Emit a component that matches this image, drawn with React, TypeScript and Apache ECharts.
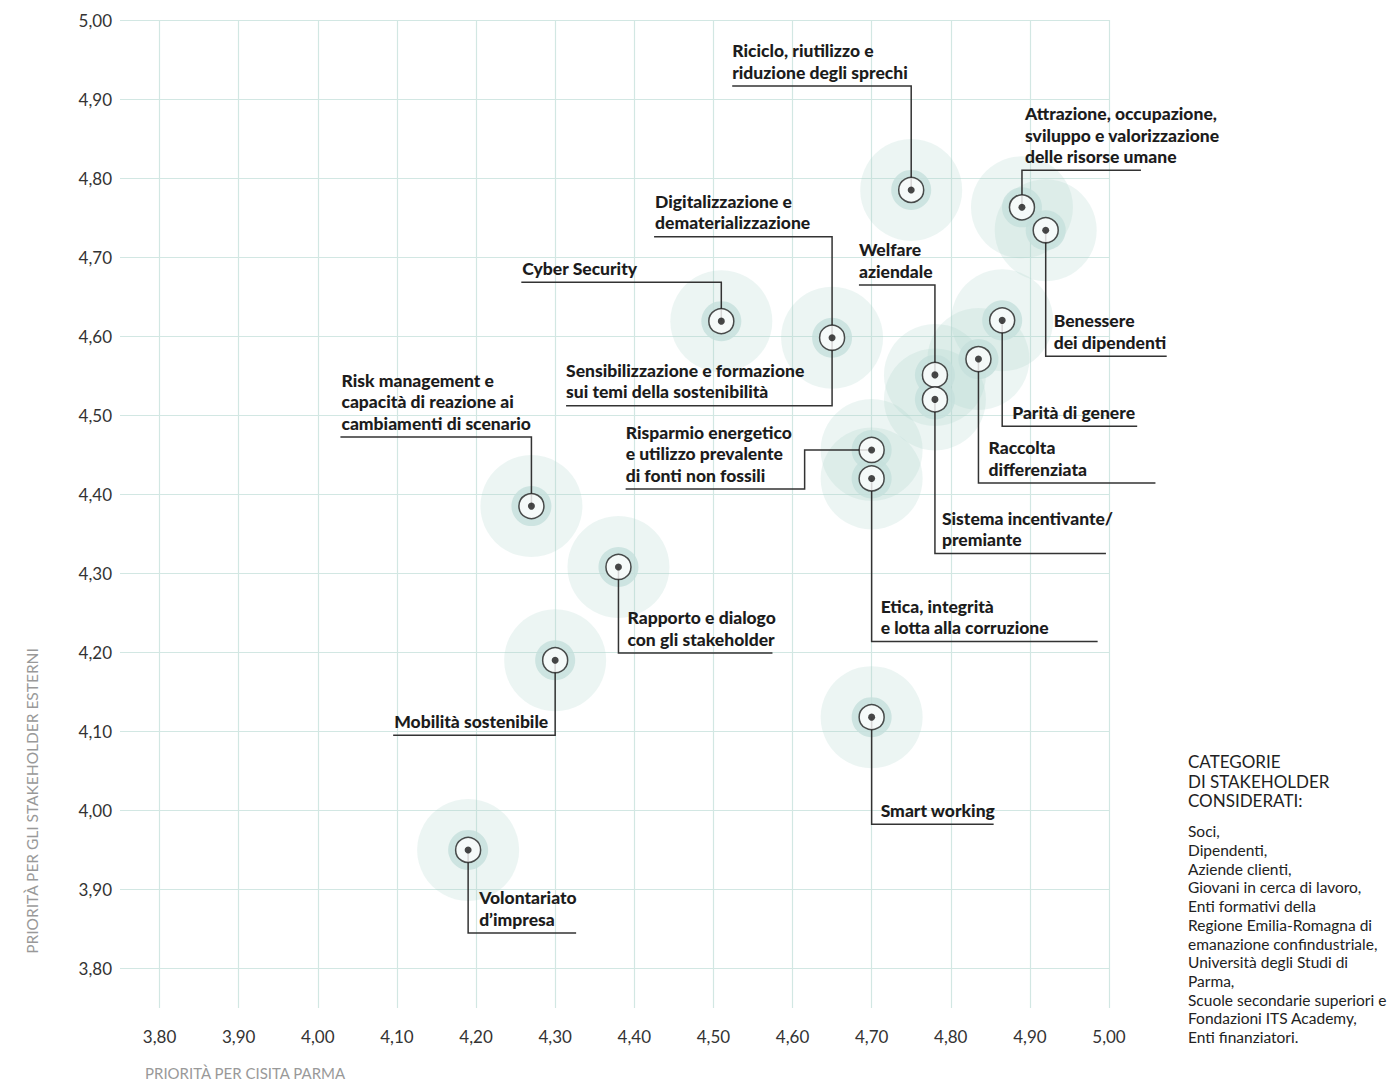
import React, { useEffect, useRef } from "react";
import * as echarts from "echarts";

// ---- data ----
const topics: string[] = [
  "Riciclo, riutilizzo e\nriduzione degli sprechi",
  "Attrazione, occupazione,\nsviluppo e valorizzazione\ndelle risorse umane",
  "Benessere\ndei dipendenti",
  "Cyber Security",
  "Digitalizzazione e\ndematerializzazione",
  "Sensibilizzazione e formazione\nsui temi della sostenibilità",
  "Welfare\naziendale",
  "Sistema incentivante/\npremiante",
  "Parità di genere",
  "Raccolta\ndifferenziata",
  "Risparmio energetico\ne utilizzo prevalente\ndi fonti non fossili",
  "Etica, integrità\ne lotta alla corruzione",
  "Risk management e\ncapacità di reazione ai\ncambiamenti di scenario",
  "Rapporto e dialogo\ncon gli stakeholder",
  "Mobilità sostenibile",
  "Smart working",
  "Volontariato\nd’impresa",
];
const cisitaPriority: number[] = [
  4.75, 4.89, 4.92, 4.51, 4.65, 4.65, 4.78, 4.78, 4.865, 4.835, 4.7, 4.7, 4.27, 4.38, 4.3, 4.7, 4.19,
];
const stakeholderPriority: number[] = [
  4.785, 4.763, 4.734, 4.619, 4.598, 4.598, 4.551, 4.52, 4.62, 4.571, 4.456, 4.42, 4.385, 4.308, 4.19, 4.118, 3.95,
];
const tickValues: number[] = [3.8, 3.9, 4.0, 4.1, 4.2, 4.3, 4.4, 4.5, 4.6, 4.7, 4.8, 4.9, 5.0];
const xAxisTitle = "PRIORITÀ PER CISITA PARMA";
const yAxisTitle = "PRIORITÀ PER GLI STAKEHOLDER ESTERNI";
const legendTitle = "CATEGORIE\nDI STAKEHOLDER\nCONSIDERATI:";
const legendItems: string[] = [
  "Soci,",
  "Dipendenti,",
  "Aziende clienti,",
  "Giovani in cerca di lavoro,",
  "Enti formativi della",
  "Regione Emilia-Romagna di",
  "emanazione confindustriale,",
  "Università degli Studi di",
  "Parma,",
  "Scuole secondarie superiori e",
  "Fondazioni ITS Academy,",
  "Enti finanziatori.",
];

// ---- label layout (pixel offsets from each point) ----
// dy: underline offset, ext: underline end, tx: text x offset, hx: optional horizontal elbow
const labelLayout: { dy: number; ext: number; tx: number; hx?: number }[] = [
  { dy: -104, ext: -179, tx: -179 },
  { dy: -37, ext: 119, tx: 3 },
  { dy: 126, ext: 121, tx: 8 },
  { dy: -39, ext: -200, tx: -199 },
  { dy: -101, ext: -178, tx: -177 },
  { dy: 68, ext: -266, tx: -266 },
  { dy: -90, ext: -76, tx: -76 },
  { dy: 154, ext: 171, tx: 7 },
  { dy: 106, ext: 135, tx: 10 },
  { dy: 124, ext: 177, tx: 10 },
  { dy: 39, ext: -246, tx: -246, hx: -67 },
  { dy: 163, ext: 226, tx: 9 },
  { dy: -69, ext: -191, tx: -190 },
  { dy: 86, ext: 154, tx: 9 },
  { dy: 75, ext: -162, tx: -161 },
  { dy: 107, ext: 122, tx: 9 },
  { dy: 83, ext: 108, tx: 11 },
];

const fmt = (v: number) => v.toFixed(2).replace(".", ",");

export default function App() {
  const ref = useRef<HTMLDivElement>(null);
  useEffect(() => {
    if (!ref.current) return;
    const chart = echarts.init(ref.current, null, { renderer: "svg" });
    const points = cisitaPriority.map((x, i) => [x, stakeholderPriority[i], i]);
    // one marker per distinct position (two topics share a point)
    const seen = new Set<string>();
    const markers = points.filter((p) => {
      const k = p[0] + "_" + p[1];
      if (seen.has(k)) return false;
      seen.add(k);
      return true;
    });
    const gridColor = "#d2e7e3";
    const axisFont = "Lato, 'Noto Sans', sans-serif";
    const labelFont = "Lato, 'Noto Sans', sans-serif";

    const option: any = {
      animation: false,
      backgroundColor: "#ffffff",
      grid: { left: 120, top: 20, right: 287, bottom: 74, containLabel: false },
      xAxis: {
        type: "value",
        min: 3.75,
        max: 5.0,
        axisLine: { show: false },
        axisTick: { show: false, customValues: tickValues },
        axisLabel: {
          customValues: tickValues,
          formatter: (v: number) => fmt(v),
          color: "#333333",
          fontSize: 17,
          fontFamily: axisFont,
          margin: 20,
        },
        splitLine: { show: true, lineStyle: { color: gridColor, width: 1.2 } },
      },
      yAxis: {
        type: "value",
        min: 3.75,
        max: 5.0,
        axisLine: { show: false },
        axisTick: { show: false, customValues: tickValues },
        axisLabel: {
          customValues: tickValues,
          formatter: (v: number) => fmt(v),
          color: "#333333",
          fontSize: 17,
          fontFamily: axisFont,
          margin: 8,
        },
        splitLine: { show: true, lineStyle: { color: gridColor, width: 1.2 } },
      },
      series: [
        {
          type: "scatter",
          data: markers,
          symbol: "circle",
          symbolSize: 102,
          itemStyle: { color: "rgba(172,210,203,0.28)" },
          silent: true,
          z: 1,
        },
        {
          type: "scatter",
          data: markers,
          symbol: "circle",
          symbolSize: 40,
          itemStyle: { color: "#c6e0dc" },
          silent: true,
          z: 2,
        },
        {
          type: "custom",
          data: points,
          z: 3,
          silent: true,
          renderItem: (params: any, api: any) => {
            const i = params.dataIndex;
            const p = api.coord([api.value(0), api.value(1)]);
            const L = labelLayout[i];
            const pts: number[][] = [[p[0], p[1]]];
            if (L.hx !== undefined) {
              pts.push([p[0] + L.hx, p[1]]);
              pts.push([p[0] + L.hx, p[1] + L.dy]);
            } else {
              pts.push([p[0], p[1] + L.dy]);
            }
            pts.push([p[0] + L.ext, p[1] + L.dy]);
            return {
              type: "group",
              children: [
                {
                  type: "polyline",
                  shape: { points: pts },
                  style: { stroke: "#333333", lineWidth: 1.5, fill: null },
                },
                {
                  type: "text",
                  x: p[0] + L.tx,
                  y: p[1] + L.dy - 3,
                  style: {
                    text: topics[i],
                    fill: "#1c1c1c",
                    fontSize: 17.5,
                    fontWeight: 900,
                    fontFamily: labelFont,
                    lineHeight: 21.5,
                    align: "left",
                    verticalAlign: "bottom",
                  },
                },
              ],
            };
          },
        },
        {
          type: "scatter",
          data: markers,
          symbol: "circle",
          symbolSize: 25,
          itemStyle: { color: "#ffffff", borderColor: "#222222", borderWidth: 1.5 },
          silent: true,
          z: 4,
        },
        {
          type: "scatter",
          data: markers,
          symbol: "circle",
          symbolSize: 7,
          itemStyle: { color: "#1a1a1a" },
          silent: true,
          z: 5,
        },
      ],
      graphic: [
        {
          type: "text",
          x: 145,
          y: 1073,
          style: {
            text: xAxisTitle,
            fill: "#999999",
            fontSize: 15,
            fontFamily: axisFont,
            align: "left",
            verticalAlign: "middle",
          },
        },
        {
          type: "text",
          x: 32,
          y: 801,
          rotation: Math.PI / 2,
          style: {
            text: yAxisTitle,
            fill: "#999999",
            fontSize: 15.5,
            fontFamily: axisFont,
            align: "center",
            verticalAlign: "middle",
          },
        },
        {
          type: "text",
          left: 1188,
          top: 752,
          style: {
            text: legendTitle,
            fill: "#222222",
            fontSize: 17,
            lineHeight: 19.5,
            fontFamily: axisFont,
          },
        },
        {
          type: "text",
          left: 1188,
          top: 822,
          style: {
            text: legendItems.join("\n"),
            fill: "#222222",
            fontSize: 15.5,
            lineHeight: 18.7,
            fontFamily: axisFont,
          },
        },
      ],
    };
    chart.setOption(option);
    return () => chart.dispose();
  }, []);
  return (
    <div
      ref={ref}
      style={{ position: "fixed", left: 0, top: 0, width: 1396, height: 1082 }}
    />
  );
}
